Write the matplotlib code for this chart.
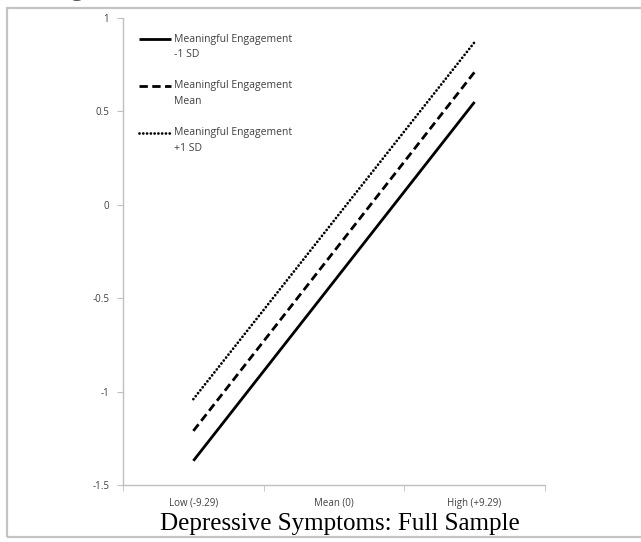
import matplotlib.pyplot as plt
from matplotlib.patches import Rectangle
from matplotlib.ticker import FixedLocator, NullFormatter
from matplotlib.legend_handler import HandlerLine2D

# simple slopes of depressive symptoms at three levels of meaningful engagement
categories = ["Low (-9.29)", "Mean (0)", "High (+9.29)"]
low_engagement = [-1.37, -0.41, 0.55]
mean_engagement = [-1.21, -0.25, 0.71]
high_engagement = [-1.04, -0.085, 0.87]
series_labels = [
    "Meaningful Engagement\n-1 SD",
    "Meaningful Engagement\nMean",
    "Meaningful Engagement\n+1 SD",
]
y_ticks = [1, 0.5, 0, -0.5, -1, -1.5]


class TopLineHandler(HandlerLine2D):
    # put the legend sample level with the first text line
    def create_artists(self, legend, orig_handle, xdescent, ydescent,
                       width, height, fontsize, trans):
        artists = super().create_artists(legend, orig_handle, xdescent, ydescent,
                                         width, height, fontsize, trans)
        for a in artists:
            a.set_ydata([y + 0.75 * fontsize for y in a.get_ydata()])
        return artists


plt.rcParams["font.family"] = ["Open Sans", "DejaVu Sans"]

fig = plt.figure(figsize=(6.41, 5.42), dpi=100)
ax = fig.add_axes([0.192, 0.105, 0.658, 0.862])

# outer chart frame
fig.patches.append(Rectangle((7 / 641, 5 / 542), 1.0, 529 / 542, transform=fig.transFigure,
                             fill=False, edgecolor="#c4c4c4", linewidth=1.6))
fig.text(77 / 641, 1.0 + 4 / 542, "g", family="Liberation Serif", fontsize=18,
         fontweight="bold", ha="center", va="baseline", color="#555555")

x = list(range(len(categories)))
ax.plot(x, low_engagement, color="black", linewidth=2.0, linestyle="-",
        solid_capstyle="butt", label=series_labels[0])
ax.plot(x, mean_engagement, color="black", linewidth=2.0, linestyle=(0, (3, 1.6)),
        dash_capstyle="butt", label=series_labels[1])
ax.plot(x, high_engagement, color="black", linewidth=2.0, linestyle=(0, (0.01, 1.35)),
        dash_capstyle="round", label=series_labels[2])

ax.set_xlim(-0.5, 2.5)
ax.set_ylim(-1.5, 1)
ax.set_yticks(y_ticks)
ax.set_yticklabels(["1", "0.5", "0", "-0.5", "-1", "-1.5"])

ax.set_xticks(x)
ax.set_xticklabels(categories)
ax.xaxis.set_minor_locator(FixedLocator([-0.5, 0.5, 1.5, 2.5]))
ax.xaxis.set_minor_formatter(NullFormatter())
ax.tick_params(axis="x", which="major", length=0, pad=9, labelsize=7, labelcolor="#404040")
ax.tick_params(axis="x", which="minor", length=4, color="#bfbfbf", direction="out")
ax.tick_params(axis="y", length=4, color="#bfbfbf", labelsize=7, labelcolor="#404040", pad=6)

for side in ["top", "right"]:
    ax.spines[side].set_visible(False)
for side in ["left", "bottom"]:
    ax.spines[side].set_color("#bfbfbf")
    ax.spines[side].set_linewidth(1.0)

leg = ax.legend(loc="upper left", bbox_to_anchor=(0.028, 0.975), frameon=False,
                fontsize=7.5, handlelength=3.1, handletextpad=0.25,
                labelspacing=1.95, borderaxespad=0,
                handler_map={plt.Line2D: TopLineHandler()})
for t in leg.get_texts():
    t.set_color("#404040")
    t.set_linespacing(1.55)

fig.text(0.53, 0.022, "Depressive Symptoms: Full Sample", family="Liberation Serif",
         fontsize=18, ha="center", va="baseline", color="black")

fig.savefig("out.png", dpi=100)
plt.close(fig)
